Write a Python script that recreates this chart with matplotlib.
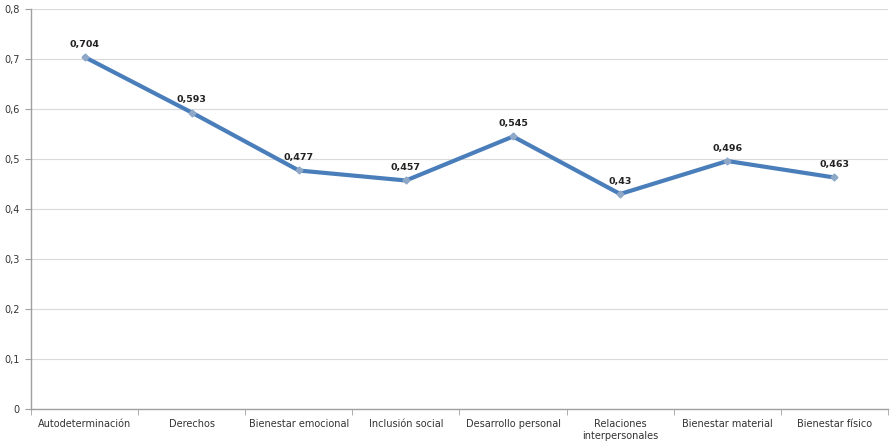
import matplotlib.pyplot as plt
import numpy as np

categorias = ['Autodeterminación', 'Derechos', 'Bienestar emocional', 'Inclusión social',
              'Desarrollo personal', 'Relaciones\ninterpersonales', 'Bienestar material',
              'Bienestar físico']
valores = [0.704, 0.593, 0.477, 0.457, 0.545, 0.43, 0.496, 0.463]
etiquetas = ['0,704', '0,593', '0,477', '0,457', '0,545', '0,43', '0,496', '0,463']
yticks = [0, 0.1, 0.2, 0.3, 0.4, 0.5, 0.6, 0.7, 0.8]

plt.rcParams['font.family'] = ['DejaVu Sans']

fig = plt.figure(figsize=(8.91, 4.44), dpi=100)
ax = fig.add_axes([31 / 891, 35 / 444, 857 / 891, 400 / 444])

x = np.arange(len(categorias))
ax.plot(x, valores, color='#4A7EBB', linewidth=3, marker='D', markersize=3.5,
        markerfacecolor='#8FA8C8', markeredgecolor='#8FA8C8', solid_capstyle='round',
        zorder=3)
for xi, v, t in zip(x, valores, etiquetas):
    ax.annotate(t, (xi, v), xytext=(0, 6), textcoords='offset points', ha='center',
                va='bottom', fontsize=6.8, fontweight='bold', color='#222222')

ax.set_xlim(-0.5, len(categorias) - 0.5)
ax.set_ylim(0, 0.8)
ax.set_yticks(yticks)
ax.set_yticklabels([('%g' % t).replace('.', ',') for t in yticks])
ax.set_xticks(x)
ax.set_xticklabels(categorias, linespacing=1.3)
ax.set_xticks(np.arange(len(categorias) + 1) - 0.5, minor=True)
ax.tick_params(axis='x', which='major', length=0, pad=7, labelsize=7, labelcolor='#333333')
ax.tick_params(axis='x', which='minor', length=4, color='#A0A0A0', direction='out')
ax.tick_params(axis='y', length=4, color='#A0A0A0', labelsize=7, labelcolor='#333333', pad=4)

ax.grid(axis='y', color='#D9D9D9', linewidth=0.8)
ax.set_axisbelow(True)
for s in ['top', 'right']:
    ax.spines[s].set_visible(False)
for s in ['left', 'bottom']:
    ax.spines[s].set_color('#A0A0A0')
    ax.spines[s].set_linewidth(1)

fig.savefig('out.png', dpi=100)
